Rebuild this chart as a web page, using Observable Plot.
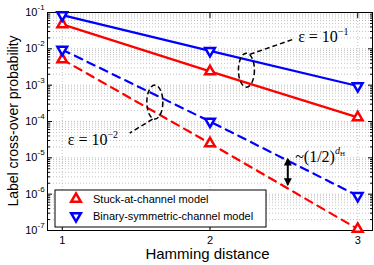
<!DOCTYPE html>
<html><head><meta charset="utf-8">
<script src="https://cdn.jsdelivr.net/npm/d3@7"></script>
<script src="https://cdn.jsdelivr.net/npm/@observablehq/plot@0.6"></script>
<style>body{margin:0;background:#fff} #chart svg{display:block;overflow:visible}</style>
</head><body><div id="chart"></div>
<script>
// ---- data ----
const distances = [1, 2, 3];
const stuckEps1 = [0.047, 0.0024, 0.00013];   // solid red, eps = 1e-1
const bscEps1   = [0.085, 0.0088, 0.00095];   // solid blue, eps = 1e-1
const stuckEps2 = [0.0051, 0.000025, 1.1e-7]; // dashed red, eps = 1e-2
const bscEps2   = [0.0095, 0.0001, 9e-7];     // dashed blue, eps = 1e-2
const yMajor = [1e-7, 1e-6, 1e-5, 1e-4, 1e-3, 1e-2, 1e-1];
const yMajorExp = ["-7", "-6", "-5", "-4", "-3", "-2", "-1"];
const xTicks = [1, 2, 3];
const xTickLabels = ["1", "2", "3"];
const legendLabels = ["Stuck-at-channel model", "Binary-symmetric-channel model"];
const colors = {stuck: "#ff0000", bsc: "#0000ff"};

const yMinor = [];
for (let k = -7; k < -1; k++) for (let m = 2; m <= 9; m++) yMinor.push(m * Math.pow(10, k));

function rowsOf(vals, model, eps) { return vals.map((v, i) => ({d: distances[i], p: v, model, eps})); }
const series = [
  rowsOf(stuckEps1, "stuck", "1"), rowsOf(bscEps1, "bsc", "1"),
  rowsOf(stuckEps2, "stuck", "2"), rowsOf(bscEps2, "bsc", "2")
];
const all = series.flat();

const downTriangle = {
  draw(ctx, size) {
    const y = -Math.sqrt(size / (Math.sqrt(3) * 3));
    const s3 = Math.sqrt(3);
    ctx.moveTo(0, -y * 2);
    ctx.lineTo(-s3 * y, y);
    ctx.lineTo(s3 * y, y);
    ctx.closePath();
  }
};

const W = 374, H = 265;
const plot = Plot.plot({
  width: W, height: H,
  marginTop: 12, marginBottom: 35, marginLeft: 47, marginRight: 2,
  style: {fontFamily: "'Liberation Sans', Arial, sans-serif", background: "white", overflow: "visible"},
  x: {domain: [0.9, 3.1], axis: null},
  y: {type: "log", domain: [1e-7, 1e-1], axis: null},
  marks: [
    Plot.gridY(yMinor.concat(yMajor), {stroke: "#aaa", strokeOpacity: 0.7, strokeDasharray: "1,2"}),
    Plot.gridX(xTicks, {stroke: "#aaa", strokeOpacity: 0.7, strokeDasharray: "1,2"}),
    // inward ticks
    Plot.axisY(yMajor, {anchor: "left", tickSize: -5, tickFormat: () => "", label: null}),
    Plot.axisY(yMajor, {anchor: "right", tickSize: -5, tickFormat: () => "", label: null}),
    Plot.axisY(yMinor, {anchor: "left", tickSize: -3, tickFormat: () => "", label: null}),
    Plot.axisY(yMinor, {anchor: "right", tickSize: -3, tickFormat: () => "", label: null}),
    Plot.axisX(xTicks, {anchor: "bottom", tickSize: -5, tickFormat: () => "", label: null}),
    Plot.axisX(xTicks, {anchor: "top", tickSize: -5, tickFormat: () => "", label: null}),
    // tick labels
    Plot.axisX(xTicks, {anchor: "bottom", tickSize: 0, tickPadding: 6, fontSize: 11, label: null, tickFormat: (d, i) => xTickLabels[i]}),
    Plot.text(yMajor, {y: d => d, frameAnchor: "left", text: () => "10", textAnchor: "end", dx: -10, fontSize: 11}),
    Plot.text(yMajor, {y: d => d, frameAnchor: "left", text: (d, i) => yMajorExp[i], textAnchor: "start", dx: -10, dy: -5, fontSize: 8}),
    Plot.frame({stroke: "black", strokeWidth: 1}),
    // lines
    ...series.map(s => Plot.line(s, {x: "d", y: "p", stroke: colors[s[0].model], strokeWidth: 2.2,
      strokeDasharray: s[0].eps === "2" ? "8,6" : null})),
    Plot.dot(all.filter(d => d.model === "stuck"), {x: "d", y: "p", symbol: "triangle", r: 3.6, stroke: colors.stuck, strokeWidth: 2.5, fill: "white"}),
    Plot.dot(all.filter(d => d.model === "bsc"), {x: "d", y: "p", symbol: downTriangle, r: 3.6, stroke: colors.bsc, strokeWidth: 2.5, fill: "white"})
  ]
});
document.getElementById("chart").appendChild(plot);

// ---- annotations positioned through the plot's scales ----
const sx = plot.scale("x"), sy = plot.scale("y");
const X = v => sx.apply(v), Y = v => sy.apply(v);
const svg = d3.select(plot);
const serif = "'Liberation Serif', 'Times New Roman', serif";
const sans = "'Liberation Sans', Arial, sans-serif";
const g = svg.append("g").attr("text-anchor", "start");

// axis titles
const fx0 = X(0.9), fx1 = X(3.1), fy0 = Y(1e-7), fy1 = Y(1e-1);
g.append("text").attr("transform", `translate(${fx0 - 34},${(fy0 + fy1) / 2}) rotate(-90)`)
  .attr("text-anchor", "middle").attr("dy", "0.35em").attr("font-family", sans).attr("font-size", 14).attr("fill", "black")
  .text("Label cross-over probability");
g.append("text").attr("x", (fx0 + fx1) / 2 - 2).attr("y", fy0 + 29)
  .attr("text-anchor", "middle").attr("font-family", sans).attr("font-size", 15).attr("fill", "black")
  .text("Hamming distance");

const defs = svg.append("defs");
defs.append("marker").attr("id", "ah").attr("viewBox", "0 0 10 10").attr("refX", 8).attr("refY", 5)
  .attr("markerWidth", 4).attr("markerHeight", 4).attr("orient", "auto-start-reverse")
  .append("path").attr("d", "M0,0 L10,5 L0,10 z").attr("fill", "black");

// ellipses
const ellipses = [{x: 2.25, y: Math.pow(10, -2.6)}, {x: 1.63, y: Math.pow(10, -3.48)}];
ellipses.forEach(e => g.append("ellipse").attr("cx", X(e.x)).attr("cy", Y(e.y)).attr("rx", 8).attr("ry", 17)
  .attr("fill", "none").attr("stroke", "black").attr("stroke-width", 1.5).attr("stroke-dasharray", "5,3"));

// leaders
const leaders = [
  [[2.56, Math.pow(10, -1.76)], [2.27, Math.pow(10, -2.17)]],
  [[1.615, Math.pow(10, -3.95)], [1.46, Math.pow(10, -4.33)]]
];
leaders.forEach(([a, b]) => g.append("line").attr("x1", X(a[0])).attr("y1", Y(a[1])).attr("x2", X(b[0])).attr("y2", Y(b[1]))
  .attr("stroke", "black").attr("stroke-width", 1.5).attr("stroke-dasharray", "5,3"));

function epsLabel(x, y, exp) {
  const t = g.append("text").attr("x", X(x)).attr("y", Y(y)).attr("font-family", serif).attr("font-size", 16).attr("fill", "black");
  t.append("tspan").text("\u03B5 = 10");
  t.append("tspan").attr("dy", -7).attr("font-size", 10).text(exp);
}
epsLabel(2.6, Math.pow(10, -1.83), "\u22121");
epsLabel(1.04, Math.pow(10, -4.65), "\u22122");

// double arrow
g.append("line").attr("x1", X(2.53)).attr("x2", X(2.53)).attr("y1", Y(Math.pow(10, -5.05))).attr("y2", Y(Math.pow(10, -5.75)))
  .attr("stroke", "black").attr("stroke-width", 2).attr("marker-start", "url(#ah)").attr("marker-end", "url(#ah)");
const t3 = g.append("text").attr("x", X(2.58)).attr("y", Y(Math.pow(10, -5.12))).attr("font-family", serif).attr("font-size", 16).attr("fill", "black");
t3.append("tspan").text("~(1/2)");
t3.append("tspan").attr("dy", -8).attr("font-size", 10).attr("font-style", "italic").text("d");
t3.append("tspan").attr("dy", 2).attr("font-size", 7).text("H");

// legend
const lx = 55, ly = 190, lw = 211, lh = 37;
const lg = g.append("g");
lg.append("rect").attr("x", lx).attr("y", ly).attr("width", lw).attr("height", lh).attr("fill", "white").attr("stroke", "black").attr("stroke-width", 1);
const syms = [d3.symbol(d3.symbolTriangle, 3.6 * 3.6 * Math.PI)(), d3.symbol(downTriangle, 3.6 * 3.6 * Math.PI)()];
const lcol = [colors.stuck, colors.bsc];
legendLabels.forEach((lab, i) => {
  const yy = ly + 9 + i * 17;
  lg.append("path").attr("d", syms[i]).attr("transform", `translate(${lx + 21},${yy})`).attr("fill", "white").attr("stroke", lcol[i]).attr("stroke-width", 2.5);
  lg.append("text").attr("x", lx + 38).attr("y", yy).attr("dy", "0.35em").attr("font-family", sans).attr("font-size", 11).attr("fill", "black").text(lab);
});
</script></body></html>
